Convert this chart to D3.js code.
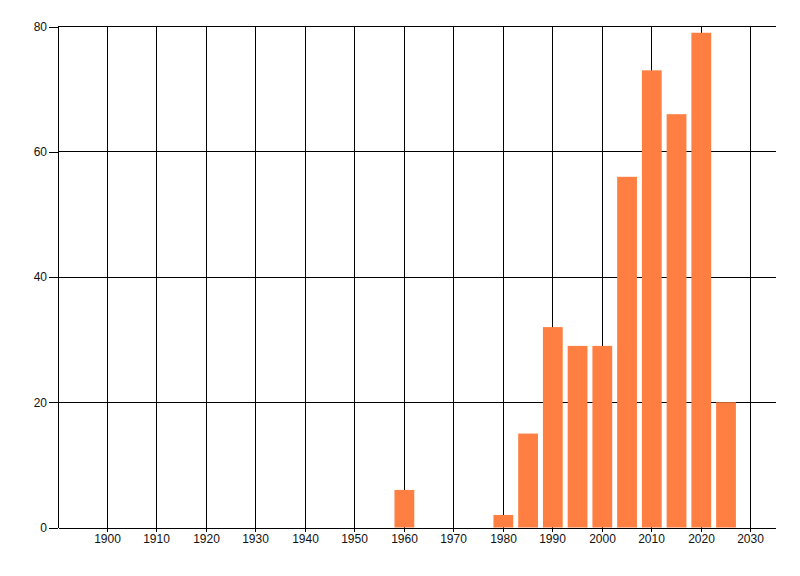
<!DOCTYPE html>
<html>
<head>
<meta charset="utf-8">
<script src="https://cdn.jsdelivr.net/npm/d3@7"></script>
<style>
  body { margin: 0; background: #fff; }
  svg text { font-family: "Liberation Sans", Arial, sans-serif; font-size: 12px; fill: #111; }
</style>
</head>
<body>
<div id="chart"></div>
<script>
// chart size, same as the window
const width = 800;
const height = 576;
const margin = {left: 58, right: 24.5, top: 26.5, bottom: 48.5};

// data
const years = [1960, 1980, 1985, 1990, 1995, 2000, 2005, 2010, 2015, 2020, 2025];
const counts = [6, 2, 15, 32, 29, 29, 56, 73, 66, 79, 20];
const xTicks = [1900, 1910, 1920, 1930, 1940, 1950, 1960, 1970, 1980, 1990, 2000, 2010, 2020, 2030];
const yTicks = [0, 20, 40, 60, 80];
const barYears = 4; // each bar spans 4 years

const svg = d3.select("#chart")
  .append("svg")
  .attr("width", width)
  .attr("height", height);

// scales
const xScale = d3.scaleLinear()
  .domain([1890, 2035])
  .range([margin.left, width - margin.right]);

const yScale = d3.scaleLinear()
  .domain([0, 80])
  .range([height - margin.bottom, margin.top]);

// grid lines
const grid = svg.append("g")
  .attr("stroke", "#000")
  .attr("stroke-width", 1)
  .attr("shape-rendering", "crispEdges");

grid.selectAll(".vgrid")
  .data(xTicks)
  .enter()
  .append("line")
    .attr("class", "vgrid")
    .attr("x1", d => Math.floor(xScale(d)) + 0.5)
    .attr("x2", d => Math.floor(xScale(d)) + 0.5)
    .attr("y1", yScale(80))
    .attr("y2", yScale(0));

grid.selectAll(".hgrid")
  .data(yTicks.filter(d => d > 0))
  .enter()
  .append("line")
    .attr("class", "hgrid")
    .attr("x1", margin.left)
    .attr("x2", width - margin.right)
    .attr("y1", d => yScale(d))
    .attr("y2", d => yScale(d));

// bars
svg.selectAll(".bar")
  .data(years)
  .enter()
  .append("rect")
    .attr("class", "bar")
    .attr("x", d => xScale(d - barYears / 2))
    .attr("width", d => xScale(d + barYears / 2) - xScale(d - barYears / 2))
    .attr("y", (d, i) => yScale(counts[i]))
    .attr("height", (d, i) => yScale(0) - yScale(counts[i]))
    .attr("fill", "#ff7f42");

// axes
svg.append("g")
  .attr("transform", `translate(0,${yScale(0)})`)
  .call(d3.axisBottom(xScale)
    .tickValues(xTicks)
    .tickFormat(d3.format("d"))
    .tickSize(4)
    .tickSizeOuter(0)
    .tickPadding(3))
  .selectAll(".tick")
    .attr("transform", d => `translate(${Math.floor(xScale(d)) + 0.5},0)`);

svg.append("g")
  .attr("transform", `translate(${margin.left},0)`)
  .call(d3.axisLeft(yScale)
    .tickValues(yTicks)
    .tickSize(9)
    .tickSizeOuter(0)
    .tickPadding(2));

svg.selectAll(".domain, .tick line")
  .attr("stroke", "#000")
  .attr("shape-rendering", "crispEdges");
svg.selectAll(".tick text")
  .attr("font-family", null)
  .attr("font-size", null)
  .attr("fill", "#111");
</script>
</body>
</html>
